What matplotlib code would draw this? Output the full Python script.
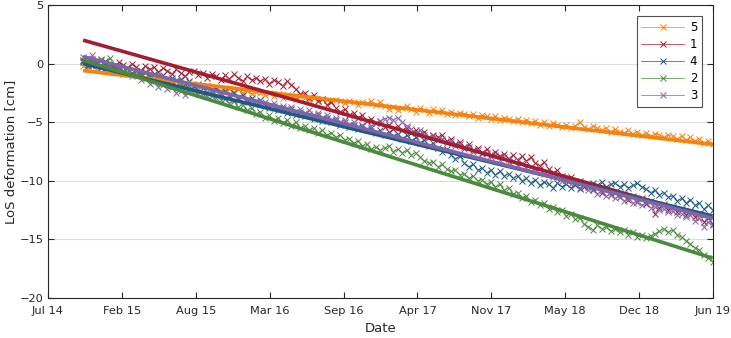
import numpy as np
import pandas as pd
import matplotlib
matplotlib.use("Agg")
import matplotlib.pyplot as plt
import matplotlib.dates as mdates

# --- DATA ---
# acquisition dates: 12-day repeat from Oct 2014 to Jun 2019
dates = pd.date_range("2014-10-23", periods=143, freq="12D")

labels = ["5", "1", "4", "2", "3"]
colors = ["#F5820D", "#A21C32", "#1F5A82", "#4A8A3C", "#8064A8"]

los_5 = [
    -0.2, -0.4, -0.1, -0.5, -0.3, -0.6, -0.4, -0.7, -0.5, -0.8,
    -0.7, -0.9, -1.0, -0.8, -1.2, -1.0, -1.3, -1.1, -1.4, -1.3,
    -1.6, -1.4, -1.7, -1.9, -1.6, -2.0, -1.8, -2.1, -1.9, -2.2,
    -2.0, -2.3, -2.1, -2.2, -2.4, -2.2, -2.5, -2.3, -2.6, -2.4,
    -2.5, -2.7, -2.5, -2.8, -2.6, -2.9, -2.7, -2.8, -3.0, -2.8,
    -2.9, -3.1, -2.9, -3.2, -3.0, -3.1, -3.3, -3.1, -3.2, -3.4,
    -3.2, -3.3, -3.5, -3.3, -3.4, -3.2, -3.5, -3.3, -3.6, -3.9,
    -3.7, -4.0, -3.8, -3.6, -3.9, -4.1, -3.8, -4.0, -4.2, -3.9,
    -4.1, -4.0, -4.3, -4.1, -4.4, -4.2, -4.3, -4.5, -4.3, -4.6,
    -4.4, -4.5, -4.7, -4.5, -4.8, -4.6, -4.7, -4.9, -4.7, -5.0,
    -4.8, -5.1, -4.9, -5.2, -5.0, -5.3, -5.1, -5.2, -5.4, -5.2,
    -5.5, -5.3, -5.0, -5.4, -5.6, -5.3, -5.5, -5.7, -5.5, -5.8,
    -5.6, -5.8, -5.9, -5.7, -6.0, -5.8, -6.1, -5.9, -6.2, -6.0,
    -6.1, -6.3, -6.1, -6.2, -6.4, -6.2, -6.5, -6.3, -6.6, -6.4,
    -6.8, -6.6, -6.9,
]
los_1 = [
    0.3, 0.0, 0.4, 0.1, -0.2, 0.2, 0.0, -0.3, 0.1, -0.1,
    -0.4, 0.0, -0.3, -0.6, -0.2, -0.5, -0.3, -0.7, -0.4, -0.6,
    -0.9, -0.5, -0.8, -1.1, -0.7, -0.6, -1.0, -0.8, -1.2, -0.9,
    -1.1, -1.4, -1.0, -1.3, -0.9, -1.2, -1.5, -1.1, -1.4, -1.2,
    -1.5, -1.3, -1.7, -1.4, -1.6, -1.9, -1.5, -1.8, -2.2, -2.6,
    -2.5, -2.9, -2.7, -3.2, -3.0, -3.5, -3.3, -3.8, -4.1, -3.9,
    -4.4, -4.2, -4.6, -4.4, -4.9, -4.7, -5.1, -4.9, -5.4, -5.2,
    -5.6, -5.3, -5.7, -5.5, -5.9, -5.7, -6.0, -5.8, -6.3, -6.1,
    -6.3, -6.1, -6.6, -6.4, -6.9, -6.7, -7.1, -6.9, -7.4, -7.2,
    -7.6, -7.3, -7.8, -7.5, -7.9, -7.7, -8.1, -7.8, -8.2, -7.9,
    -8.3, -8.0, -8.5, -8.7, -8.4, -9.0, -9.3, -9.1, -9.6, -9.9,
    -9.7, -10.2, -10.0, -10.5, -10.3, -10.8, -10.6, -11.0, -10.7, -11.2,
    -11.0, -11.4, -11.1, -11.6, -11.3, -11.8, -11.5, -12.0, -11.7, -12.8,
    -12.3, -12.0, -12.5, -12.2, -12.7, -12.4, -12.9, -12.6, -13.1, -12.8,
    -13.5, -13.2, -13.7,
]
los_4 = [
    0.1, -0.2, 0.2, -0.1, -0.4, 0.0, -0.3, -0.5, -0.2, -0.6,
    -0.4, -0.8, -0.6, -0.9, -0.7, -1.1, -0.9, -1.2, -1.0, -1.4,
    -1.2, -1.5, -1.3, -1.7, -1.5, -1.9, -1.7, -2.1, -1.9, -2.3,
    -2.1, -2.5, -2.3, -2.7, -2.5, -2.9, -2.7, -3.1, -2.9, -3.3,
    -3.1, -3.5, -3.8, -3.6, -4.0, -3.8, -4.2, -3.9, -4.4, -4.1,
    -4.5, -4.3, -4.7, -4.4, -4.9, -4.6, -5.0, -4.8, -5.2, -5.0,
    -5.4, -5.2, -5.6, -5.3, -5.7, -5.5, -5.9, -5.7, -6.1, -5.8,
    -6.2, -6.0, -6.4, -6.1, -6.6, -6.3, -6.8, -6.5, -7.0, -6.8,
    -7.2, -7.5, -7.3, -7.8, -8.1, -7.9, -8.5, -8.8, -8.6, -9.1,
    -8.9, -9.3, -9.1, -9.5, -9.2, -9.6, -9.4, -9.8, -9.6, -10.0,
    -9.8, -10.2, -9.9, -10.4, -10.1, -10.3, -10.6, -10.2, -10.5, -10.3,
    -10.6, -10.4, -10.7, -10.3, -10.5, -10.2, -10.4, -10.1, -10.5, -10.3,
    -10.2, -10.5, -10.3, -10.6, -10.4, -10.2, -10.5, -10.7, -11.0, -10.8,
    -11.2, -11.0, -11.4, -11.3, -11.7, -11.5, -11.9, -11.6, -12.1, -11.9,
    -12.4, -12.1, -12.5,
]
los_2 = [
    0.2, -0.1, 0.3, 0.0, 0.4, 0.1, 0.5, -0.2, -0.4, -0.6,
    -0.5, -0.8, -0.6, -1.0, -0.8, -1.2, -1.0, -1.4, -1.3, -1.6,
    -1.5, -1.9, -1.7, -2.1, -1.9, -2.3, -2.2, -2.6, -2.4, -2.8,
    -2.7, -3.1, -3.0, -3.4, -3.2, -3.7, -3.5, -4.0, -3.8, -4.3,
    -4.1, -4.6, -4.4, -4.9, -4.6, -5.1, -4.8, -5.3, -5.0, -5.5,
    -5.3, -5.7, -5.5, -5.9, -5.7, -6.1, -5.9, -6.3, -6.1, -6.5,
    -6.4, -6.8, -6.6, -7.0, -6.9, -7.3, -7.1, -7.4, -7.2, -7.0,
    -7.5, -7.3, -7.6, -7.4, -7.8, -7.6, -8.0, -8.3, -8.5, -8.4,
    -8.8, -8.6, -9.0, -9.2, -9.1, -9.5, -9.4, -9.8, -9.6, -10.0,
    -9.9, -10.3, -10.1, -10.5, -10.3, -10.8, -10.6, -11.1, -11.0, -11.5,
    -11.3, -11.8, -11.6, -12.1, -11.9, -12.4, -12.2, -12.7, -12.5, -13.0,
    -12.8, -13.3, -13.2, -13.7, -13.9, -14.2, -13.8, -14.1, -13.9, -14.3,
    -14.1, -14.4, -14.2, -14.6, -14.4, -14.8, -14.6, -14.9, -14.7, -14.5,
    -14.3, -14.1, -14.4, -14.2, -14.6, -14.8, -15.1, -15.4, -15.7, -15.9,
    -16.3, -16.6, -16.9,
]
los_3 = [
    0.6, 0.2, 0.7, -0.2, 0.3, -0.4, -0.1, -0.6, -0.3, -0.9,
    -0.7, -1.1, -0.9, -1.4, -1.2, -1.7, -1.5, -2.0, -1.8, -2.2,
    -2.0, -2.5, -2.3, -2.7, -2.4, -2.2, -2.6, -2.4, -2.8, -2.6,
    -2.9, -2.7, -3.0, -2.8, -3.2, -3.0, -3.3, -3.1, -3.4, -3.2,
    -3.5, -3.3, -3.6, -3.4, -3.8, -3.6, -3.9, -3.7, -4.1, -3.9,
    -4.2, -4.0, -4.4, -4.2, -4.6, -4.4, -4.8, -4.6, -5.0, -4.8,
    -5.2, -5.0, -5.4, -5.2, -5.6, -5.3, -5.1, -4.9, -4.7, -4.6,
    -4.8, -4.6, -5.0, -5.3, -5.6, -5.9, -5.7, -6.1, -6.3, -6.2,
    -6.5, -6.4, -6.8, -6.6, -7.0, -6.9, -7.3, -7.1, -7.5, -7.4,
    -7.7, -7.6, -8.0, -7.8, -8.2, -8.0, -8.4, -8.3, -8.7, -8.5,
    -8.9, -8.8, -9.2, -9.0, -9.4, -9.3, -9.7, -9.6, -10.0, -9.9,
    -10.3, -10.2, -10.6, -10.4, -10.8, -10.7, -11.1, -10.9, -11.3, -11.2,
    -11.5, -11.4, -11.7, -11.5, -11.9, -11.8, -12.1, -11.9, -12.3, -12.2,
    -12.5, -12.4, -12.7, -12.6, -12.9, -12.8, -13.1, -12.9, -13.4, -13.2,
    -13.9, -13.5, -13.8,
]
series = [los_5, los_1, los_4, los_2, los_3]

# linear trend lines (value at first and last date)
fit_start = [-0.6, 2.0, 0.0, 0.3, 0.6]
fit_end = [-6.9, -13.2, -13.0, -16.6, -13.2]

tick_dates = pd.date_range("2014-07-20", periods=10, freq="200D")


def main():
    plt.rcParams['font.family'] = ['DejaVu Sans']
    fig = plt.figure(figsize=(7.31, 3.38), dpi=100)
    ax = fig.add_axes([48 / 731, 40 / 338, 665 / 731, 293 / 338])

    # measured series: x markers with a thin connecting line
    for lab, col, vals in zip(labels, colors, series):
        ax.plot(dates, vals, '-x', color=col, lw=0.5, ms=4.5, mew=0.7, label=lab)

    # trend lines on top
    for col, y0, y1 in zip(colors, fit_start, fit_end):
        ax.plot([dates[0], dates[-1]], [y0, y1], color=col, lw=2.6, solid_capstyle='butt')

    ax.set_xlim(tick_dates[0], pd.Timestamp("2019-06-24"))
    ax.set_ylim(-20, 5)
    ax.set_xticks(tick_dates)
    ax.xaxis.set_major_formatter(mdates.DateFormatter('%b %y'))
    ax.set_yticks(np.arange(-20, 6, 5))

    ax.grid(True, axis='y', color='#DCDCDC', lw=0.8)
    ax.set_axisbelow(True)
    ax.tick_params(direction='in', top=True, right=True, length=4,
                   labelsize=8.2, colors='#262626', width=0.8)
    ax.tick_params(axis='x', pad=6)
    ax.tick_params(axis='y', pad=3)
    for s in ax.spines.values():
        s.set_linewidth(0.8)
        s.set_color('#262626')

    ax.set_xlabel("Date", fontsize=9.5, color='#262626', labelpad=4)
    ax.set_ylabel("LoS deformation [cm]", fontsize=9.5, color='#262626', labelpad=2)

    leg = ax.legend(loc='upper right', bbox_to_anchor=(0.9835, 0.9625), borderaxespad=0,
                    fontsize=8.5, handlelength=3.6, numpoints=1, fancybox=False,
                    labelspacing=0.35, borderpad=0.4, handletextpad=0.5)
    leg.get_frame().set_edgecolor('#262626')
    leg.get_frame().set_linewidth(0.8)

    fig.savefig("out.png", dpi=100)


if __name__ == "__main__":
    main()
